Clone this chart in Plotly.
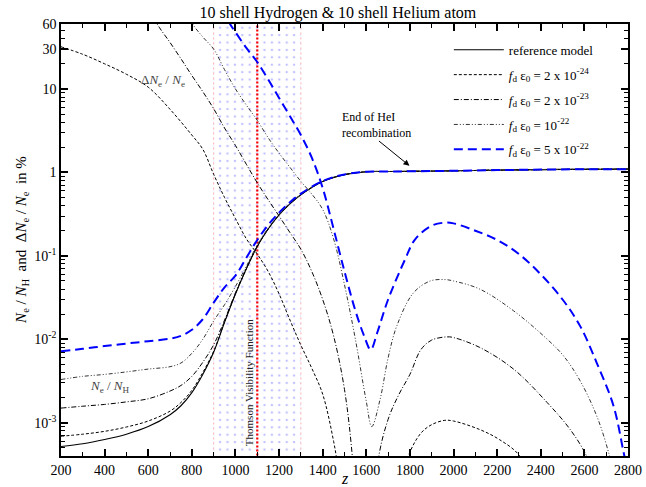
import plotly.graph_objects as go
import numpy as np

# ---------------- data ----------------
z_ne = [200, 300, 400, 500, 600, 700, 750, 800, 850, 900, 950, 1000, 1050, 1100, 1150,
        1200, 1250, 1300, 1400, 1500, 1600, 1700, 1800, 2000, 2200, 2400, 2600, 2800]
ne_ref = [5.2e-4, 5.6e-4, 6.3e-4, 7.3e-4, 9.0e-4, 1.25e-3, 1.6e-3, 2.3e-3, 3.8e-3, 7.0e-3,
          0.016, 0.035, 0.07, 0.13, 0.21, 0.31, 0.42, 0.54, 0.78, 0.94, 1.02, 1.025, 1.03,
          1.045, 1.065, 1.08, 1.09, 1.095]
ne_2e24 = [6.9e-4, 7.3e-4, 7.9e-4, 8.9e-4, 1.05e-3, 1.38e-3, 1.75e-3, 2.45e-3, 4.0e-3, 7.2e-3,
           0.0162, 0.0351, 0.07, 0.13, 0.21, 0.31, 0.42, 0.54, 0.78, 0.94, 1.02, 1.025, 1.03,
           1.045, 1.065, 1.08, 1.09, 1.095]
ne_2e23 = [1.5e-3, 1.58e-3, 1.66e-3, 1.78e-3, 1.94e-3, 2.4e-3, 2.8e-3, 3.6e-3, 5.3e-3, 8.6e-3,
           0.017, 0.036, 0.071, 0.131, 0.21, 0.31, 0.42, 0.54, 0.78, 0.94, 1.02, 1.025, 1.03,
           1.045, 1.065, 1.08, 1.09, 1.095]
ne_1e22 = [3.3e-3, 3.6e-3, 3.8e-3, 4.07e-3, 4.4e-3, 4.7e-3, 5.2e-3, 6.8e-3, 0.01, 0.0166,
           0.026, 0.043, 0.075, 0.135, 0.215, 0.312, 0.42, 0.54, 0.78, 0.94, 1.02, 1.025, 1.03,
           1.045, 1.065, 1.08, 1.09, 1.095]
ne_5e22 = [7.2e-3, 7.7e-3, 8.3e-3, 8.9e-3, 9.5e-3, 0.0102, 0.011, 0.013, 0.0174, 0.0275,
           0.042, 0.058, 0.095, 0.155, 0.235, 0.33, 0.44, 0.556, 0.79, 0.945, 1.02, 1.025, 1.03,
           1.045, 1.065, 1.08, 1.09, 1.095]

# Delta N_e / N_e in %
z_d1 = [200, 300, 400, 500, 600, 700, 800, 850, 900, 950, 1000, 1050, 1100, 1150, 1200, 1250,
        1300, 1350, 1400, 1450, 1480, 1620, 1770, 1793, 1850, 1900, 1960, 2000, 2120, 2210,
        2300, 2350]
d_2e24 = [32, 26, 20, 15, 10.5, 5.7, 2.8, 1.9, 0.95, 0.5, 0.28, 0.16, 0.105, 0.065, 0.035,
          0.017, 0.0085, 0.0045, 0.0022, 6e-4, 2e-4, 1e-6, 2e-4, 4e-4, 7.5e-4, 9.5e-4, 1.07e-3,
          1.05e-3, 8.3e-4, 6.3e-4, 4.1e-4, 2e-4]

z_d2 = [600, 650, 700, 750, 800, 850, 900, 950, 1000, 1050, 1100, 1150, 1200, 1250, 1300, 1350,
        1400, 1450, 1500, 1540, 1600, 1650, 1700, 1750, 1800, 1850, 1900, 1970, 2000, 2120,
        2275, 2430, 2535, 2610, 2650]
d_2e23 = [90, 55, 36, 23, 14.5, 9.3, 5.8, 3.4, 2.1, 1.25, 0.75, 0.47, 0.3, 0.19, 0.12, 0.065,
          0.03, 0.011, 2.5e-3, 3e-4, 1e-6, 3e-4, 1.1e-3, 2.2e-3, 3.8e-3, 7.5e-3, 0.0098, 0.0107,
          0.0105, 8.0e-3, 4.4e-3, 1.74e-3, 8.3e-4, 4e-4, 2e-4]

z_d3 = [770, 800, 850, 900, 950, 1000, 1050, 1100, 1150, 1200, 1250, 1300, 1350, 1400, 1450,
        1500, 1550, 1600, 1625, 1663, 1700, 1740, 1816, 1893, 1960, 2000, 2120, 2275, 2430,
        2505, 2580, 2657, 2711, 2740]
d_1e22 = [95, 62, 42, 30, 17, 10, 6.4, 4.2, 2.6, 1.7, 1.15, 0.78, 0.55, 0.36, 0.16, 0.045,
          0.01, 1.8e-3, 9e-4, 1.9e-3, 6e-3, 0.0145, 0.036, 0.05, 0.052, 0.05, 0.04, 0.022, 0.01,
          6.3e-3, 3.2e-3, 1.2e-3, 4.4e-4, 2e-4]

z_d4 = [940, 975, 1000, 1050, 1100, 1150, 1200, 1250, 1300, 1350, 1400, 1450, 1500, 1550,
        1590, 1620, 1650, 1700, 1778, 1824, 1900, 1960, 2000, 2100, 2200, 2300, 2400, 2500,
        2580, 2657, 2734, 2780, 2800]
d_5e22 = [90, 60, 48, 31, 21, 13, 7.8, 4.7, 2.8, 1.5, 0.65, 0.21, 0.065, 0.022, 0.011, 0.0075,
          0.012, 0.03, 0.091, 0.158, 0.23, 0.25, 0.245, 0.2, 0.155, 0.105, 0.06, 0.03, 0.0145,
          0.0052, 1.58e-3, 4.4e-4, 2.5e-4]

band_z = [900, 1300]
tvf_peak_z = 1100

ymin, ymax = 4e-4, 60
y_major = [1e-3, 1e-2, 1e-1, 1, 10, 30, 60]
y_major_text = ["10<sup>-3</sup>", "10<sup>-2</sup>", "10<sup>-1</sup>", "1", "10", "30", "60"]
y_minor = [m * 10.0 ** e for e in range(-4, 2) for m in range(2, 10)
           if ymin <= m * 10.0 ** e <= ymax and m * 10.0 ** e not in (30, 60)]

legend_names = ["reference model",
                "<i>f</i><sub>d</sub> ε<sub>0</sub> = 2 x 10<sup>-24</sup>",
                "<i>f</i><sub>d</sub> ε<sub>0</sub> = 2 x 10<sup>-23</sup>",
                "<i>f</i><sub>d</sub> ε<sub>0</sub> = 10<sup>-22</sup>",
                "<i>f</i><sub>d</sub> ε<sub>0</sub> = 5 x 10<sup>-22</sup>"]

FONT = "Liberation Serif"

fig = go.Figure()

# visibility band (dotted pattern)
fig.add_trace(go.Scatter(
    x=[band_z[0], band_z[1], band_z[1], band_z[0], band_z[0]],
    y=[ymin / 10, ymin / 10, ymax * 10, ymax * 10, ymin / 10],
    fill="toself", mode="lines", line=dict(width=0),
    fillcolor="rgba(0,0,0,0)",
    fillpattern=dict(shape=".", fgcolor="#8484ff", bgcolor="rgba(255,255,255,0)",
                     size=7.4, solidity=0.09, fillmode="overlay"),
    showlegend=False, hoverinfo="skip"))
for bz in band_z:
    fig.add_trace(go.Scatter(x=[bz, bz], y=[ymin / 10, ymax * 10], mode="lines",
                             line=dict(color="#ffb0b0", width=1, dash="2px,3px"),
                             showlegend=False, hoverinfo="skip"))
fig.add_trace(go.Scatter(x=[tvf_peak_z, tvf_peak_z], y=[ymin / 10, ymax * 10], mode="lines",
                         line=dict(color="#ff0000", width=2.2, dash="2px,2px"),
                         showlegend=False, hoverinfo="skip"))

styles = [
    dict(color="black", width=1.1, dash="solid"),
    dict(color="black", width=1, dash="3px,2px"),
    dict(color="black", width=1, dash="5px,2px,1px,2px"),
    dict(color="#333333", width=1, dash="4px,2px,1px,2px,1px,2px"),
    dict(color="#0000ff", width=2, dash="9px,5px"),
]
ne_series = [ne_ref, ne_2e24, ne_2e23, ne_1e22, ne_5e22]
d_series = [None, (z_d1, d_2e24), (z_d2, d_2e23), (z_d3, d_1e22), (z_d4, d_5e22)]

for i in range(5):
    fig.add_trace(go.Scatter(x=z_ne, y=ne_series[i], mode="lines", line=styles[i],
                             name=legend_names[i], legendgroup=str(i), showlegend=True,
                             line_shape="spline"))
    if d_series[i] is not None:
        zz, dd = d_series[i]
        fig.add_trace(go.Scatter(x=zz, y=dd, mode="lines", line=styles[i],
                                 name=legend_names[i], legendgroup=str(i), showlegend=False,
                                 line_shape="spline"))

axis_common = dict(showline=True, linecolor="black", linewidth=1.5, mirror="ticks",
                   ticks="inside", tickcolor="black", tickwidth=1.5, ticklen=7,
                   showgrid=False, zeroline=False, automargin=False,
                   tickfont=dict(family=FONT, size=14, color="black"))

fig.update_layout(
    width=646, height=487,
    margin=dict(l=61, r=18, t=24, b=31),
    paper_bgcolor="white", plot_bgcolor="white",
    font=dict(family=FONT, size=14, color="black"),
    title=dict(text="10 shell Hydrogen & 10 shell Helium atom", x=0.523, xanchor="center",
               y=0.975, yanchor="middle",
               font=dict(family=FONT, size=16, color="black")),
    xaxis=dict(range=[200, 2800], dtick=200, tick0=200,
               minor=dict(dtick=100, ticklen=4, ticks="inside", tickcolor="black", tickwidth=1),
               **axis_common),
    yaxis=dict(type="log", range=[np.log10(ymin), np.log10(ymax)],
               tickmode="array", tickvals=y_major, ticktext=y_major_text,
               minor=dict(tickmode="array", tickvals=y_minor, ticklen=4, ticks="inside",
                          tickcolor="black", tickwidth=1),
               **axis_common),
    legend=dict(x=0.684, y=0.975, xanchor="left", yanchor="top",
                bgcolor="rgba(0,0,0,0)", borderwidth=0,
                font=dict(family=FONT, size=13, color="black"),
                tracegroupgap=5, itemwidth=50),
    showlegend=True,
)

# axis titles
fig.add_annotation(x=0.5, y=-0.051, xref="paper", yref="paper", yanchor="middle",
                   text="<i>z</i>", showarrow=False,
                   font=dict(family=FONT, size=16, color="black"))
fig.add_annotation(x=-0.069, y=0.5, xref="paper", yref="paper", xanchor="center",
                   text="<i>N</i><sub>e</sub> / <i>N</i><sub>H</sub>  and  "
                        "Δ<i>N</i><sub>e</sub> / <i>N</i><sub>e</sub>  in %",
                   textangle=-90, showarrow=False,
                   font=dict(family=FONT, size=15, color="black"))

fig.add_annotation(x=668, y=np.log10(12.5), xref="x", yref="y",
                   text="Δ<i>N</i><sub>e</sub> / <i>N</i><sub>e</sub>", showarrow=False,
                   font=dict(family=FONT, size=13, color="#444444"))
fig.add_annotation(x=425, y=np.log10(2.75e-3), xref="x", yref="y",
                   text="<i>N</i><sub>e</sub> / <i>N</i><sub>H</sub>", showarrow=False,
                   font=dict(family=FONT, size=13, color="#444444"))
fig.add_annotation(x=1063, y=np.log10(3.0e-3), xref="x", yref="y",
                   text="Thomson Visibility Function", textangle=-90, showarrow=False,
                   font=dict(family=FONT, size=11, color="#222222"))
fig.add_annotation(x=1645, y=np.log10(3.7), xref="x", yref="y",
                   text="End of HeI<br>recombination", showarrow=False, align="left",
                   font=dict(family=FONT, size=12, color="black"))
fig.add_annotation(x=1798, y=np.log10(1.2), ax=1651, ay=np.log10(2.46),
                   xref="x", yref="y", axref="x", ayref="y", text="",
                   showarrow=True, arrowhead=2, arrowsize=1.2, arrowwidth=1,
                   arrowcolor="black")

fig.write_html("out.html")
